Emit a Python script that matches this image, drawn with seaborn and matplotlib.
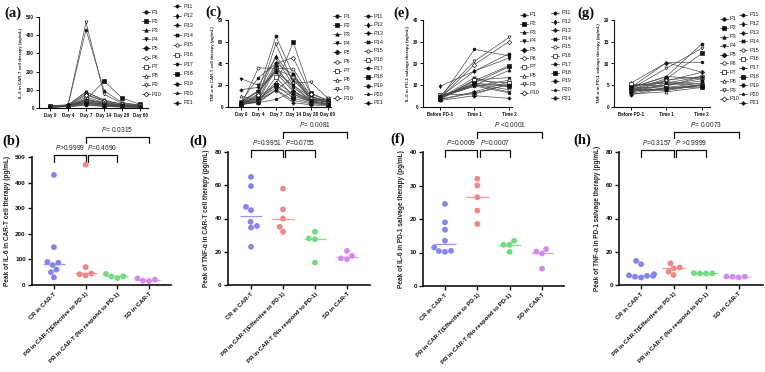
import numpy as np
import pandas as pd
import matplotlib
matplotlib.use("Agg")
import matplotlib.pyplot as plt
from matplotlib.lines import Line2D
from matplotlib.transforms import blended_transform_factory
import seaborn as sns

# ---------------- data ----------------
patients = [f"P{i}" for i in range(1, 22)]
days = ["Day 0", "Day 4", "Day 7", "Day 14", "Day 28", "Day 60"]
pd1_times = ["Before PD-1", "Time 1", "Time 2"]

il6_cart = [
    [10, 15, 430, 95, 30, 15], [8, 12, 45, 148, 55, 20], [6, 14, 90, 40, 20, 10],
    [12, 18, 87, 45, 18, 12], [7, 10, 78, 35, 15, 8], [5, 9, 60, 30, 12, 6],
    [9, 13, 50, 25, 14, 10], [6, 11, 30, 22, 10, 7], [11, 16, 470, 75, 25, 18],
    [8, 14, 70, 40, 22, 15], [7, 12, 45, 28, 16, 9], [5, 10, 42, 30, 12, 8],
    [9, 15, 37, 20, 10, 12], [10, 12, 43, 25, 15, 10], [6, 9, 34, 18, 10, 6],
    [8, 10, 33, 20, 12, 9], [4, 8, 27, 15, 8, 5], [7, 11, 26, 14, 9, 6],
    [5, 9, 21, 12, 7, 5], [6, 8, 17, 10, 6, 4], [4, 7, 15, 9, 5, 3],
]
tnf_cart = [
    [5, 15, 65, 30, 10, 5], [3, 10, 20, 59.5, 13, 6], [4, 12, 47, 25, 8, 4],
    [26, 20, 45, 20, 6, 5], [3, 8, 38, 15, 5, 3], [2, 36, 35.5, 35, 10, 4],
    [5, 14, 34.5, 28, 6, 7], [10, 6, 23, 12, 5, 3], [4, 9, 58, 22, 23, 8],
    [3, 11, 40, 45.5, 12, 6], [5, 27, 40, 30, 8, 4], [2, 6, 35, 18, 6, 3],
    [16, 18, 32, 14, 7, 5], [4, 15, 32, 20, 9, 6], [3, 7, 15, 28, 8, 4],
    [2, 5, 27.5, 10, 5, 3], [5, 4, 7, 13.5, 6, 2], [3, 6, 20.5, 8, 4, 2],
    [4, 8, 17.5, 12, 5, 3], [2, 5, 16, 6, 3, 2], [3, 4, 15.5, 4, 2, 1],
]
il6_pd1 = [
    [4.5, 16.5, 24.5], [3.8, 12, 19], [5, 10, 16.8], [4, 13.5, 9], [3.5, 7, 11.5],
    [4.2, 10.5, 8], [5.5, 6, 10.4], [4.8, 10.2, 7], [5, 21, 32], [4, 19.5, 30],
    [3.6, 26.5, 23.5], [9.5, 16.5, 22.5], [4.4, 11, 18.5], [3.2, 12.5, 13.5],
    [4.6, 9.5, 12.3], [3.9, 12.3, 11], [5.2, 10, 10.2], [4.1, 11, 9.5],
    [3.4, 6.5, 10.3], [4.3, 9.7, 6.5], [3, 5.2, 4],
]
tnf_pd1 = [
    [4.5, 7, 14.5], [4, 6.5, 12.3], [3.5, 5, 6.5], [4.8, 5.8, 5.2], [3.2, 4.5, 5.5],
    [5, 5.5, 4.8], [3.8, 4.2, 5], [3, 3.5, 4.5], [4.2, 8.9, 13.5], [5.5, 10.2, 8],
    [4.5, 10.2, 10.3], [3.6, 6, 8], [4, 5, 6], [4.3, 7, 6.5], [3.9, 6.2, 7],
    [5.2, 4.8, 7], [3.4, 5.5, 7], [4.6, 4.3, 4.6], [3.7, 4, 5], [4.1, 3.8, 5],
    [2.8, 4.4, 5],
]

groups = ["CR in CAR-T", "PR in CAR-T(Effective to PD-1)",
          "PR in CAR-T (No respond to PD-1)", "SD in CAR-T"]
peak_il6_cart = [[430, 148, 90, 87, 78, 60, 50, 30], [470, 70, 45, 42, 37],
                 [43, 34, 33, 27], [26, 21, 17, 15]]
peak_tnf_cart = [[65, 59.5, 47, 45, 38, 35.5, 34.5, 23], [58, 45.5, 40, 35, 32],
                 [32, 28, 27.5, 13.5], [20.5, 17.5, 16, 15.5]]
peak_il6_pd1 = [[24.5, 19, 16.8, 13.5, 11.5, 10.5, 10.4, 10.2], [32, 30, 26.5, 22.5, 18.5],
                [13.5, 12.3, 12.3, 10.2], [11, 10.3, 9.7, 5.2]]
peak_tnf_pd1 = [[14.5, 12.5, 6.5, 5.8, 5.5, 5.5, 5.0, 4.5], [13, 10.5, 10, 8, 6],
                [7, 7.2, 6.9, 7], [4.6, 5, 5.1, 5]]

pvals_b = ["$P$>0.9999", "$P$=0.4690", "$P$= 0.0315"]
pvals_d = ["$P$=0.9951", "$P$=0.0755", "$P$= 0.0081"]
pvals_f = ["$P$=0.0009", "$P$=0.0007", "$P$ <0.0001"]
pvals_h = ["$P$=0.3157", "$P$ >0.9999", "$P$= 0.0073"]

# ---------------- style ----------------
sns.set_theme(style="ticks")
plt.rcParams["font.family"] = ["Liberation Sans", "DejaVu Sans"]
plt.rcParams["mathtext.fontset"] = "custom"
plt.rcParams["mathtext.it"] = "Liberation Sans:italic"
plt.rcParams["mathtext.rm"] = "Liberation Sans"

W, H = 765, 372
fig = plt.figure(figsize=(W / 100, H / 100), dpi=100)
fig.patch.set_facecolor("white")


def axpos(l, r, t, b):
    return [l / W, 1 - b / H, (r - l) / W, (b - t) / H]


markers = ["o", "s", "^", "v", "D", "o", "s", "^", "v", "D",
           "h", "d", "P", "X", "8", "s", "p", "s", "o", "*", "P"]
open_idx = {5, 6, 7, 8, 9, 14, 15}
group_colors = ["#8585f2", "#f28585", "#6fdc7d", "#d68af0"]

LINE_COLOR = "#4a4a4a"


def top_panel(rect, data, cats, xlim, ylim, yticks, ylabel):
    ax = fig.add_axes(axpos(*rect))
    rows = []
    for p, vals in zip(patients, data):
        for i, v in enumerate(vals):
            rows.append((p, i, v))
    df = pd.DataFrame(rows, columns=["patient", "t", "value"])
    sns.lineplot(data=df, x="t", y="value", hue="patient", style="patient",
                 hue_order=patients, style_order=patients,
                 palette=[LINE_COLOR] * len(patients), markers=markers,
                 dashes=False, legend=False, linewidth=0.5, markersize=2.2,
                 markeredgecolor="#111111", markeredgewidth=0.45,
                 errorbar=None, ax=ax)
    for i, ln in enumerate(ax.lines[:len(patients)]):
        if i in open_idx:
            ln.set_markerfacecolor("white")
        else:
            ln.set_markerfacecolor("#111111")
    ax.set_xlim(*xlim)
    ax.set_ylim(*ylim)
    ax.set_yticks(yticks)
    ax.set_xticks(range(len(cats)))
    ax.set_xticklabels(cats, fontsize=3.3, fontweight="bold")
    ax.set_yticklabels([str(v) for v in yticks], fontsize=3.4, fontweight="bold")
    ax.set_xlabel("")
    ax.set_ylabel(ylabel, fontsize=3.2, fontweight="bold", labelpad=2)
    sns.despine(ax=ax)
    for s in ["left", "bottom"]:
        ax.spines[s].set_linewidth(0.8)
        ax.spines[s].set_color("#111111")
    ax.tick_params(length=2, width=0.7, pad=1.5, colors="#111111")
    ax.set_facecolor("white")
    return ax


def legend_col(xm, y0, y1, idxs):
    idxs = list(idxs)
    n = len(idxs)
    for k, i in enumerate(idxs):
        y = y0 + (y1 - y0) * k / (n - 1)
        fy = 1 - y / H
        ln = Line2D([(xm - 4) / W, (xm + 4) / W], [fy, fy], transform=fig.transFigure,
                    color=LINE_COLOR, lw=0.6)
        fig.add_artist(ln)
        mk = Line2D([xm / W], [fy], transform=fig.transFigure, marker=markers[i],
                    markersize=2.5, markeredgewidth=0.5, markeredgecolor="#111111",
                    markerfacecolor="white" if i in open_idx else "#111111",
                    linestyle="none")
        fig.add_artist(mk)
        fig.text((xm + 6) / W, fy, patients[i], fontsize=4.0, va="center", ha="left",
                 color="#222222")


def bottom_panel(rect, data, xlim, ylim, yticks, ylabel, pvals):
    ax = fig.add_axes(axpos(*rect))
    rows = []
    for g, vals in zip(groups, data):
        for v in vals:
            rows.append((g, v))
    df = pd.DataFrame(rows, columns=["group", "value"])
    sns.swarmplot(data=df, x="group", y="value", hue="group", order=groups,
                  hue_order=groups, palette=group_colors, size=4.2, linewidth=0,
                  legend=False, ax=ax)
    med = df.groupby("group")["value"].median().reindex(groups)
    for i, (g, m) in enumerate(med.items()):
        ax.plot([i - 0.35, i + 0.35], [m, m], color=group_colors[i], lw=0.9,
                alpha=0.85, solid_capstyle="butt")
    ax.set_xlim(*xlim)
    ax.set_ylim(*ylim)
    ax.set_yticks(yticks)
    ax.set_yticklabels([str(v) for v in yticks], fontsize=4.6, fontweight="bold")
    ax.set_xticks(range(len(groups)))
    ax.set_xticklabels(groups, rotation=45, ha="right", rotation_mode="anchor",
                       fontsize=4.3, fontweight="bold")
    ax.set_xlabel("")
    ax.set_ylabel(ylabel, fontsize=4.7, fontweight="bold", labelpad=3)
    sns.despine(ax=ax)
    for s in ["left", "bottom"]:
        ax.spines[s].set_linewidth(1.2)
        ax.spines[s].set_color("#111111")
    ax.tick_params(length=3, width=1.0, pad=1.5, colors="#111111")
    ax.set_facecolor("white")

    hpx = rect[3] - rect[2]
    tr = blended_transform_factory(ax.transData, ax.transAxes)

    def fy(dpx):
        return 1 + dpx / hpx

    def bracket(x0, x1, top, leg, text, ty):
        ax.plot([x0, x0, x1, x1], [fy(top - leg), fy(top), fy(top), fy(top - leg)],
                transform=tr, clip_on=False, color="#111111", lw=0.9)
        ax.text((x0 + x1) / 2, fy(ty), text, transform=tr, ha="center",
                va="bottom", fontsize=4.8, color="#222222")

    bracket(0, 1, 2, 7, pvals[0], 5)
    bracket(1.07, 2, 2, 7, pvals[1], 5)
    bracket(1, 3, 20, 6, pvals[2], 23)
    return ax


top_panel((39, 148, 17, 108), il6_cart, days, (-0.61, 5.44), (0, 500),
          [0, 100, 200, 300, 400, 500], "IL-6 in CAR-T cell therapy (pg/mL)")
top_panel((228, 331, 20, 107), tnf_cart, days, (-0.75, 5.17), (0, 80),
          [0, 20, 40, 60, 80], "TNF-α in CAR-T cell therapy (pg/mL)")
top_panel((423, 512, 20, 107), il6_pd1, pd1_times, (-0.49, 2.09), (0, 40),
          [0, 10, 20, 30, 40], "IL-6 in PD-1 salvage therapy (pg/mL)")
top_panel((614, 710, 20, 107), tnf_pd1, pd1_times, (-0.48, 2.23), (0, 20),
          [0, 5, 10, 15, 20], "TNF-α in PD-1 salvage therapy (pg/mL)")

legend_col(146, 12, 94, range(0, 10))
legend_col(177, 6, 103, range(10, 21))
legend_col(337, 16, 98, range(0, 10))
legend_col(368, 16, 103, range(10, 21))
legend_col(524, 15, 93, range(0, 10))
legend_col(555, 13, 98, range(10, 21))
legend_col(724, 19, 99, range(0, 10))
legend_col(743, 15, 103, range(10, 21))

bottom_panel((32, 171, 157, 285), peak_il6_cart, (-0.69, 3.69), (0, 500),
             [0, 100, 200, 300, 400, 500], "Peak of IL-6 in CAR-T cell therapy (pg/mL)", pvals_b)
bottom_panel((228, 370, 152, 285), peak_tnf_cart, (-0.72, 3.72), (0, 80),
             [0, 20, 40, 60, 80], "Peak of TNF-α in CAR-T cell therapy (pg/mL)", pvals_d)
bottom_panel((423, 564, 152, 286), peak_il6_pd1, (-0.68, 3.68), (0, 40),
             [0, 10, 20, 30, 40], "Peak of IL-6 in PD-1 salvage therapy (pg/mL)", pvals_f)
bottom_panel((619, 763, 152, 285), peak_tnf_pd1, (-0.68, 3.75), (0, 80),
             [0, 20, 40, 60, 80], "Peak of TNF-α in PD-1 salvage therapy (pg/mL)", pvals_h)

for lab, x, y in [("(a)", 4, 13), ("(b)", 2, 141), ("(c)", 205, 12), ("(d)", 189, 141),
                  ("(e)", 393, 13), ("(f)", 390, 139), ("(g)", 577, 13), ("(h)", 573, 140)]:
    fig.text(x / W, 1 - y / H, lab, family=["Liberation Serif", "DejaVu Serif"],
             fontweight="bold", fontsize=10.5, va="center", ha="left", color="#111111")

fig.savefig("out.png", dpi=100, facecolor="white")
